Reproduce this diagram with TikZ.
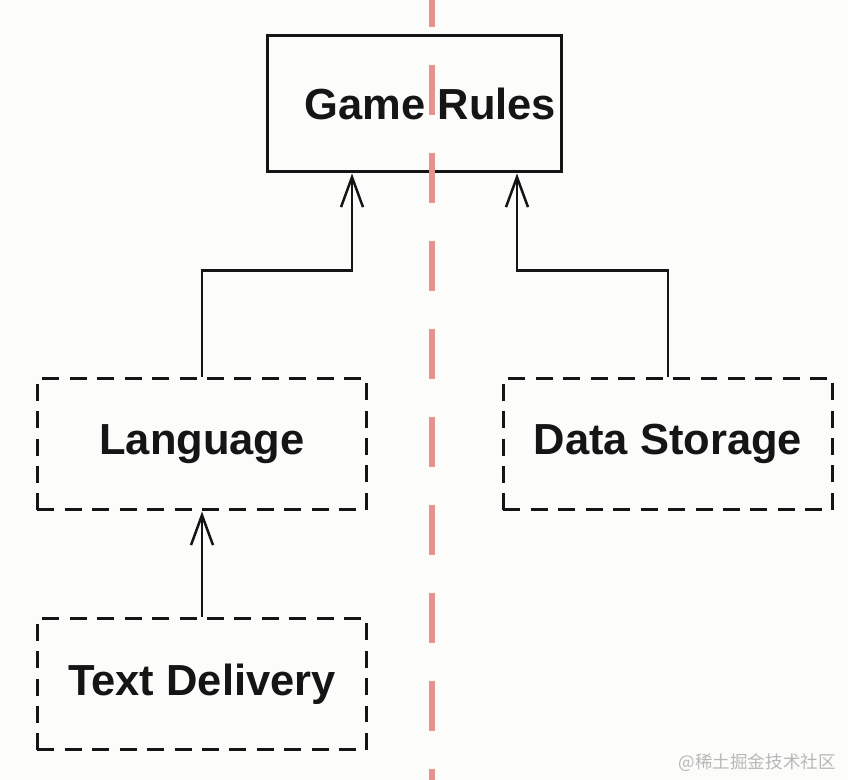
\documentclass[tikz,border=0pt]{standalone}
\usepackage{fontspec}
\setmainfont{Liberation Sans}
\newfontfamily\cjkfont{Noto Sans CJK SC}
\usetikzlibrary{arrows.meta,positioning}
\definecolor{Ink}{HTML}{151515}
\definecolor{Paper}{HTML}{FCFCFA}
\definecolor{Split}{HTML}{E8928F}
\definecolor{Mark}{HTML}{B8B8B8}

\begin{document}
\begin{tikzpicture}[
  x=0.02cm, y=-0.02cm,
  rulebox/.style={draw=Ink,text=Ink,line width=0.06cm,inner sep=0pt,minimum width=5.9cm,minimum height=2.74cm,font=\bfseries\fontsize{24.75pt}{30pt}\selectfont},
  modbox/.style={rulebox,dash pattern=on 0.34cm off 0.21cm,minimum width=6.6cm,minimum height=2.64cm},
  dep/.style={-{Straight Barb[length=0.6cm,width=0.44cm]},line width=0.05cm,draw=Ink},
  split/.style={draw=Split,line width=0.12cm,dash pattern=on 1cm off 0.76cm,dash phase=0.46cm}
]
\fill[Paper] (0,0) rectangle (848,780);
\useasboundingbox (0,0) rectangle (848,780);
\node[rulebox] (rules) at (414.5,103.5) {\hspace*{0.64cm}Game Rules};
\node[modbox] (lang) at (202,444) {Language};
\node[modbox] (store) at (668,444) {Data Storage};
\node[modbox] (text) at (202,684) {Text Delivery};
\draw[dep] (lang.north) -- ++(0,-106) -| ([xshift=-1.25cm]rules.south);
\draw[dep] (store.north) -- ++(0,-106) -| ([xshift=2.05cm]rules.south);
\draw[dep] (text.north) -- (lang.south);
% boundary line
\coordinate (cut top) at (432,0);
\coordinate (cut bottom) at (432,780);
\draw[split] (cut top) -- (cut bottom);
\node[font=\cjkfont\fontsize{10pt}{12pt}\selectfont,text=Mark,anchor=east] (mark) at (842,763) {@稀土掘金技术社区};
\end{tikzpicture}
\end{document}
